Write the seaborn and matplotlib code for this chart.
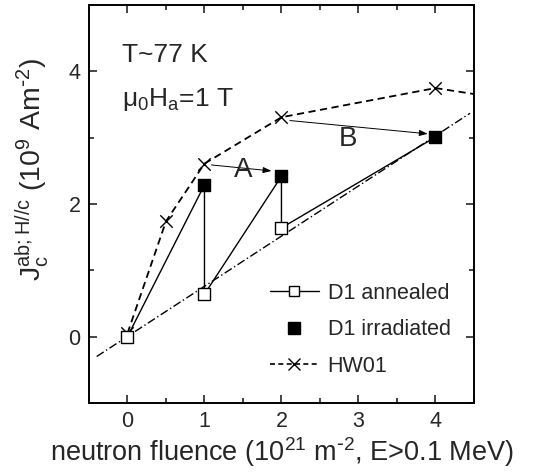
import matplotlib
matplotlib.use("Agg")
import matplotlib.pyplot as plt
from matplotlib.lines import Line2D
from matplotlib.ticker import MultipleLocator
import seaborn as sns
import pandas as pd

# D1 sample: annealed and irradiated states
annealed_x = [0, 1, 2]
annealed_y = [0.0, 0.64, 1.64]
irradiated_x = [1, 2, 4]
irradiated_y = [2.29, 2.42, 3.01]

# HW01 reference sample (last point only carries the line to the frame)
hw_x = [0, 0.5, 1, 2, 4, 4.5]
hw_y = [0.05, 1.74, 2.61, 3.31, 3.75, 3.66]

# linear fit through the annealed states
fit_x = [-0.4, 4.45]
fit_y = [-0.30, 3.37]

sns.set_style("ticks")
plt.rcParams["font.family"] = ["Liberation Sans", "DejaVu Sans"]
plt.rcParams["mathtext.default"] = "regular"

fig = plt.figure(figsize=(5.41, 4.74), dpi=100)
ax = fig.add_axes([0.1645, 0.150, 0.7115, 0.839])

# zig-zag path: annealed -> irradiated -> annealed ...
path_x = [annealed_x[0], irradiated_x[0], annealed_x[1], irradiated_x[1], annealed_x[2], irradiated_x[2]]
path_y = [annealed_y[0], irradiated_y[0], annealed_y[1], irradiated_y[1], annealed_y[2], irradiated_y[2]]
path = pd.DataFrame({"x": path_x, "y": path_y})
sns.lineplot(data=path, x="x", y="y", sort=False, estimator=None, color="black",
             linewidth=1.0, ax=ax)

fit = pd.DataFrame({"x": fit_x, "y": fit_y})
sns.lineplot(data=fit, x="x", y="y", sort=False, estimator=None, color="black",
             linewidth=1.0, linestyle=(0, (6, 2, 1, 2)), ax=ax)

hw = pd.DataFrame({"x": hw_x, "y": hw_y})
sns.lineplot(data=hw, x="x", y="y", sort=False, estimator=None, color="black",
             linewidth=1.3, linestyle=(0, (4, 2.5)), ax=ax)
sns.scatterplot(data=hw.iloc[:5], x="x", y="y", marker="x", s=80, color="black",
                linewidth=1.0, ax=ax, zorder=4)

ann = pd.DataFrame({"x": annealed_x, "y": annealed_y})
sns.scatterplot(data=ann, x="x", y="y", marker="s", s=70, facecolor="white",
                edgecolor="black", linewidth=1.0, ax=ax, zorder=5)
irr = pd.DataFrame({"x": irradiated_x, "y": irradiated_y})
sns.scatterplot(data=irr, x="x", y="y", marker="s", s=80, color="black",
                edgecolor="black", linewidth=1.0, ax=ax, zorder=5)

# shift arrows
arrow_kw = dict(arrowstyle="-|>,head_length=0.5,head_width=0.18", color="black",
                lw=0.7, shrinkA=0, shrinkB=0)
ax.annotate("", xy=(1.87, 2.50), xytext=(1.09, 2.59), arrowprops=arrow_kw)
ax.annotate("", xy=(3.90, 3.06), xytext=(2.11, 3.26), arrowprops=arrow_kw)
ax.text(1.50, 2.52, "A", fontsize=20, ha="center", va="center")
ax.text(2.86, 2.98, "B", fontsize=20, ha="center", va="center")

ax.text(-0.07, 4.25, "T~77 K", fontsize=19, ha="left", va="center")
ax.text(-0.07, 3.58, r"$\mu_0H_a$=1 T", fontsize=19, ha="left", va="center")

ax.set_xlim(-0.5, 4.5)
ax.set_ylim(-1, 5)
ax.xaxis.set_major_locator(MultipleLocator(1))
ax.xaxis.set_minor_locator(MultipleLocator(0.5))
ax.yaxis.set_major_locator(MultipleLocator(2))
ax.yaxis.set_minor_locator(MultipleLocator(1))
ax.tick_params(which="both", direction="in", top=True, right=True, width=1.2,
               labelsize=15.5, pad=6)
ax.tick_params(which="major", length=6)
ax.tick_params(which="minor", length=3.5)
for sp in ax.spines.values():
    sp.set_linewidth(1.4)
    sp.set_color("black")

ax.set_xlabel(r"neutron fluence (10$^{21}$ m$^{\text{-}2}$, E>0.1 MeV)", fontsize=19.5,
              labelpad=2)
ax.set_ylabel(r"J$_c^{ab;H//c}$ (10$^9$ Am$^{\text{-}2}$)", fontsize=20.5)
ax.yaxis.set_label_coords(-0.098, 0.588)

handles = [
    Line2D([], [], color="black", lw=1.0, marker="s", markersize=7,
           markerfacecolor="white", markeredgecolor="black"),
    Line2D([], [], color="none", marker="s", markersize=8,
           markerfacecolor="black", markeredgecolor="black"),
    Line2D([], [], color="black", lw=1.2, linestyle=(0, (3, 2)), marker="x",
           markersize=8, markeredgewidth=1.0),
]
ax.legend(handles, ["D1 annealed", "D1 irradiated", "HW01"], loc="lower right",
          bbox_to_anchor=(0.99, 0.017), frameon=False, fontsize=15.5,
          handlelength=2.3, handletextpad=0.4, labelspacing=0.72, numpoints=1)

fig.savefig("out.png", dpi=100)
